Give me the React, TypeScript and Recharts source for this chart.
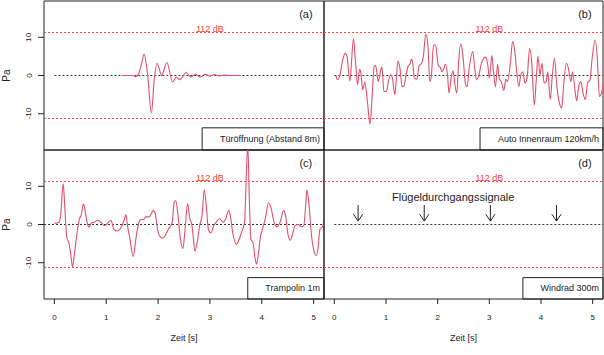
import React from 'react';
import { LineChart, Line, XAxis, YAxis, ReferenceLine, ReferenceArea, ReferenceDot } from 'recharts';

// ---- data ----
const xTicks = [0, 1, 2, 3, 4, 5];
const yTicks = [-10, 0, 10];
const threshold = 11.26; // 112 dB peak in Pa
const thresholdLabel = '112 dB';
const panelLabels = ['(a)', '(b)', '(c)', '(d)'];
const panelTitles = ['Türöffnung (Abstand 8m)', 'Auto Innenraum 120km/h', 'Trampolin 1m', 'Windrad 300m'];
const annotation = 'Flügeldurchgangssignale';
const arrowTimes = [0.46, 1.74, 3.02, 4.3];

const aT = [1.30, 1.50, 1.57, 1.63, 1.68, 1.73, 1.80, 1.87, 1.93, 1.98, 2.07, 2.17, 2.28, 2.35, 2.42, 2.54, 2.63, 2.72, 2.81, 2.91, 3.00, 3.08, 3.18, 3.28, 3.40, 3.60];
const aV = [0, 0, -0.3, 0.6, 3.0, 5.6, 0, -9.8, -0.5, 3.2, 0, 3.4, -1.7, -0.4, -1.1, 0.8, -0.4, 0.4, -0.4, 0.3, -0.2, 0.25, -0.1, 0.1, 0, 0];

const bT = [0.03, 0.065, 0.11, 0.155, 0.21, 0.245, 0.30, 0.32, 0.37, 0.41, 0.45, 0.49, 0.51, 0.55, 0.59, 0.64, 0.69, 0.73, 0.77, 0.80,
  0.85, 0.89, 0.92, 0.96, 1.01, 1.04, 1.09, 1.13, 1.17, 1.20, 1.23, 1.27, 1.31, 1.35, 1.39, 1.43, 1.47, 1.49, 1.52, 1.55,
  1.60, 1.64, 1.68, 1.72, 1.77, 1.81, 1.85, 1.88, 1.92, 1.96, 2.01, 2.05, 2.08, 2.12, 2.15, 2.19, 2.22, 2.26, 2.30, 2.33,
  2.37, 2.41, 2.45, 2.49, 2.54, 2.57, 2.61, 2.68, 2.71, 2.75, 2.79, 2.84, 2.89, 2.93, 2.97, 3.00, 3.05, 3.08, 3.12, 3.16,
  3.19, 3.23, 3.28, 3.32, 3.35, 3.41, 3.45, 3.49, 3.53, 3.57, 3.61, 3.65, 3.69, 3.73, 3.78, 3.82, 3.87, 3.91, 3.94, 3.98,
  4.02, 4.06, 4.10, 4.13, 4.18, 4.22, 4.26, 4.31, 4.35, 4.40, 4.44, 4.49, 4.53, 4.58, 4.61, 4.66, 4.69, 4.73, 4.77, 4.82,
  4.86, 4.90, 4.95, 4.99, 5.05, 5.09, 5.13, 5.17, 5.20];
const bV = [0, -1.1, 0.2, 3.65, 5.8, 5.0, -1.4, 1.0, 9.7, 3.65, -2.4, 1.65, 1.0, -3.7, -1.7, -6.8, -12.7, -5.9, 2.3, 2.6,
  -1.6, 0.9, 2.3, -4.2, -4.2, -2.0, 0.2, -1.1, -5.0, -1.1, 3.8, 1.9, -2.9, -2.7, 0.35, 2.5, 3.2, 4.3, 3.0, -0.7,
  -1.0, 2.6, 3.0, 4.7, 10.8, 8.0, -1.6, 0.2, 8.0, 8.0, 2.8, 2.1, 1.0, 1.9, 3.0, 0.2, -4.6, -0.7, 1.2, -2.0,
  -4.6, 4.5, 8.3, 5.0, -2.4, -2.9, 1.9, 6.3, 2.8, -1.1, -0.3, 2.8, 4.5, 4.8, 2.8, -0.7, 5.2, 1.0, -2.9, 3.0,
  -0.7, -1.6, -3.9, -0.9, -1.6, 3.65, 8.9, 6.7, 1.0, -2.9, 0.2, 1.0, -2.0, -0.7, 7.1, 3.65, -7.7, -0.7, 5.0, 0.2,
  3.2, -2.0, -1.6, 1.0, -6.3, 0.2, 4.5, -3.3, -6.8, -8.5, -2.4, 3.2, 1.9, -1.6, 1.0, -4.2, -6.6, -2.9, -1.6, -5.0,
  -6.3, -2.0, -1.1, 4.5, 9.3, 4.5, -5.5, -4.6, -2.4];

const cT = [0.00, 0.09, 0.12, 0.17, 0.20, 0.24, 0.28, 0.32, 0.35, 0.39, 0.43, 0.48, 0.52, 0.56, 0.60, 0.64, 0.67, 0.71, 0.77, 0.83,
  0.90, 0.96, 1.02, 1.09, 1.15, 1.22, 1.28, 1.35, 1.38, 1.41, 1.46, 1.52, 1.57, 1.62, 1.67, 1.72, 1.76, 1.83, 1.86, 1.91,
  1.95, 1.99, 2.04, 2.09, 2.15, 2.21, 2.27, 2.31, 2.34, 2.38, 2.43, 2.48, 2.52, 2.57, 2.61, 2.65, 2.68, 2.71, 2.76, 2.80,
  2.85, 2.89, 2.93, 2.97, 3.02, 3.07, 3.12, 3.19, 3.25, 3.30, 3.36, 3.39, 3.44, 3.51, 3.55, 3.62, 3.67, 3.69, 3.73, 3.76,
  3.79, 3.83, 3.87, 3.90, 3.93, 3.97, 4.02, 4.07, 4.13, 4.18, 4.24, 4.30, 4.36, 4.42, 4.46, 4.50, 4.55, 4.60, 4.64, 4.71,
  4.76, 4.81, 4.85, 4.87, 4.91, 4.96, 5.00, 5.05, 5.09, 5.12, 5.17, 5.21];
const cV = [0.3, 0.6, 2.2, 10.7, 4.8, -3.5, -4.8, -8.3, -11.1, -7.4, -3.0, 1.3, 2.6, 5.4, 3.0, 0, -0.7, 0.4, 0.6, 1.1,
  0.6, -0.3, 0.2, 1.1, -1.3, -1.7, -0.9, 1.3, 2.6, -0.3, -3.9, -8.4, -3.9, 0, 1.3, 1.3, 2.0, 2.0, 2.6, 3.7,
  2.6, -1.3, -3.2, -3.6, -2.6, -0.9, 0.4, 5.7, 6.3, 3.0, -3.7, -6.3, -1.3, 5.5, 1.7, 0, -3.5, -7.0, -4.3, -0.4,
  2.6, 9.1, 4.8, -1.3, -2.2, -0.4, 0.6, 1.5, 0.6, 1.3, 3.7, 2.6, -2.2, -5.2, -4.3, -1.7, 0.9, 8.3, 21, 6.5,
  -3.9, -4.8, -8.7, -10.4, -8.3, -3.5, -0.9, 1.7, 5.7, 4.3, 0.4, -0.6, 0.9, 3.7, 2.2, -2.2, -4.1, -2.2, -0.3, 0,
  -0.6, -0.3, 5.7, 9.1, 5.2, -3.0, -6.5, -8.1, -5.7, -1.3, -0.6, 1.7];

const dT: number[] = [];
const dV: number[] = [];

// ---- style ----
const X_DOMAIN: [number, number] = [-0.2, 5.2];
const Y_DOMAIN: [number, number] = [-19.5, 19.5];
const W = 604;
const H = 355;
const FONT = '"Liberation Sans", Arial, Helvetica, sans-serif';
const WAVE = '#e3506a';
const RED = '#ff3b3b';
const INK = '#222';

const toData = (t: number[], v: number[]) => t.map((tt, i) => ({ t: tt, v: v[i] }));

const YTick = (props: any) => {
  const { y, payload } = props;
  const x = 31.5;
  return (
    <text x={x} y={y} transform={`rotate(-90 ${x} ${y})`} textAnchor="middle" fontSize={8} fill={INK} fontFamily={FONT}>
      {payload.value}
    </text>
  );
};

type PanelProps = {
  idx: number;
  data: { t: number; v: number }[];
  left: boolean;
  top: boolean;
  boxStart: number;
  zeroFromStart: boolean;
  arrows?: boolean;
};

const Panel = ({ idx, data, left, top, boxStart, zeroFromStart, arrows }: PanelProps) => {
  const margin = {
    top: top ? 1 : 150,
    bottom: top ? 205 : 0,
    left: left ? 0 : 324,
    right: left ? 280 : 1,
  };
  return (
    <div style={{ position: 'absolute', left: 0, top: 0, width: W, height: H }}>
      <LineChart width={W} height={H} margin={margin} data={data}>
        <XAxis
          type="number"
          dataKey="t"
          domain={X_DOMAIN}
          allowDataOverflow
          ticks={xTicks}
          hide={top}
          height={56}
          axisLine={false}
          tickLine={{ stroke: INK }}
          tickSize={5}
          tickMargin={10}
          tick={{ fontSize: 8, fill: INK, fontFamily: FONT }}
          label={{ value: 'Zeit [s]', position: 'insideBottom', offset: 14, fontSize: 9, fill: INK, fontFamily: FONT }}
        />
        <YAxis
          type="number"
          domain={Y_DOMAIN}
          allowDataOverflow
          ticks={yTicks}
          hide={!left}
          width={44}
          axisLine={false}
          tickLine={{ stroke: INK }}
          tickSize={6}
          tick={<YTick />}
          label={{
            content: (p: any) => {
              const vb = p.viewBox || {};
              const cy = (vb.y || 0) + (vb.height || 0) / 2;
              return (
                <text x={9.5} y={cy} transform={`rotate(-90 9.5 ${cy})`} textAnchor="middle" fontSize={10} fill={INK} fontFamily={FONT}>
                  Pa
                </text>
              );
            },
          }}
        />
        <ReferenceLine y={threshold} stroke={RED} strokeDasharray="2 2" strokeWidth={1} />
        <ReferenceLine y={-threshold} stroke={RED} strokeDasharray="2 2" strokeWidth={1} />
        {zeroFromStart ? (
          <ReferenceLine segment={[{ x: 0, y: 0 }, { x: 5.2, y: 0 }]} stroke="#333" strokeDasharray="2 2" strokeWidth={1} />
        ) : (
          <ReferenceLine y={0} stroke="#333" strokeDasharray="2 2" strokeWidth={1} />
        )}
        {data.length > 0 && (
          <Line type="monotone" dataKey="v" stroke={WAVE} strokeWidth={1.1} dot={false} isAnimationActive={false} />
        )}
        <ReferenceDot x={3} y={12.3} r={0} fill="none" stroke="none"
          label={{ value: thresholdLabel, position: 'center', fontSize: 9, fill: RED, fontFamily: FONT }} />
        <ReferenceDot x={4.85} y={16.1} r={0} fill="none" stroke="none"
          label={{ value: panelLabels[idx], position: 'center', fontSize: 11, fill: INK, fontFamily: FONT }} />
        {arrows && (
          <ReferenceDot x={2.3} y={7.2} r={0} fill="none" stroke="none"
            label={{ value: annotation, position: 'center', fontSize: 11, fill: INK, fontFamily: FONT }} />
        )}
        {arrows && arrowTimes.map((a) => (
          <ReferenceLine key={`s${a}`} segment={[{ x: a, y: 5.1 }, { x: a, y: 0.9 }]} stroke={INK} strokeWidth={1} />
        ))}
        {arrows && arrowTimes.map((a) => (
          <ReferenceLine key={`l${a}`} segment={[{ x: a - 0.09, y: 2.7 }, { x: a, y: 0.9 }]} stroke={INK} strokeWidth={1} />
        ))}
        {arrows && arrowTimes.map((a) => (
          <ReferenceLine key={`r${a}`} segment={[{ x: a + 0.09, y: 2.7 }, { x: a, y: 0.9 }]} stroke={INK} strokeWidth={1} />
        ))}
        <ReferenceArea x1={boxStart} x2={5.2} y1={-19.5} y2={top ? -13.7 : -13.9} fill="#fff" fillOpacity={1} stroke={INK} strokeWidth={1}
          label={{ value: panelTitles[idx], position: 'insideRight', offset: 4, fontSize: 9, fill: INK, fontFamily: FONT }} />
        <ReferenceArea x1={-0.2} x2={5.2} y1={-19.5} y2={19.5} fill="none" fillOpacity={0} stroke={INK} strokeWidth={1} />
      </LineChart>
    </div>
  );
};

export default function App() {
  return (
    <div style={{ position: 'absolute', left: 0, top: 0, width: W, height: H, background: '#fff', fontFamily: FONT }}>
      <Panel idx={0} data={toData(aT, aV)} left top boxStart={2.85} zeroFromStart />
      <Panel idx={1} data={toData(bT, bV)} left={false} top boxStart={2.82} zeroFromStart />
      <Panel idx={2} data={toData(cT, cV)} left top={false} boxStart={3.73} zeroFromStart={false} />
      <Panel idx={3} data={toData(dT, dV)} left={false} top={false} boxStart={3.65} zeroFromStart arrows />
    </div>
  );
}
